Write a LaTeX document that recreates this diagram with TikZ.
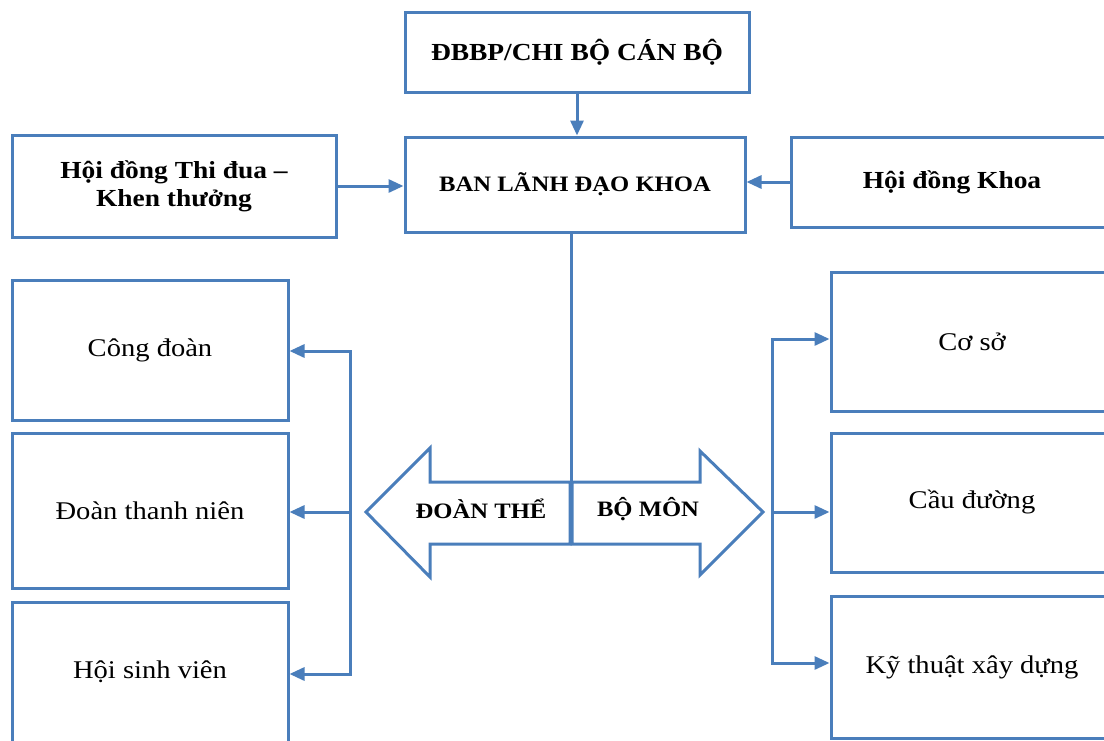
\documentclass[tikz,border=0pt]{standalone}
\usepackage{fontspec}
\setmainfont[FakeStretch=1.12]{Liberation Serif}
\usetikzlibrary{arrows.meta}
\definecolor{myblue}{HTML}{4A7EBB}
\tikzset{
  box/.style={draw=myblue, line width=3pt, fill=white, rectangle, inner sep=0pt, align=center},
  conn/.style={draw=myblue, line width=3pt, line join=miter},
  tip/.tip={Triangle[length=15pt,width=13pt]},
  arr/.style={conn, -tip},
  darr/.style={conn, tip-tip},
  bigtxt/.style={font=\fontsize{24.5}{28}\selectfont\bfseries},
  midtxt/.style={font=\fontsize{22}{26}\selectfont\bfseries},
  regtxt/.style={font=\fontsize{25.5}{30}\selectfont},
}
\begin{document}
\begin{tikzpicture}[x=1pt,y=-1pt]
\useasboundingbox (0,0) rectangle (1104,740);
\clip (0,0) rectangle (1104,740);
\fill[white] (0,0) rectangle (1104,740);
% top row
\node[box, minimum width=344, minimum height=80, bigtxt] (top) at (577,52) {ĐBBP/CHI BỘ CÁN BỘ};
\node[box, minimum width=340, minimum height=95, midtxt] (ban) at (575,184.5) {BAN LÃNH ĐẠO KHOA};
\node[box, minimum width=324, minimum height=102, bigtxt, text depth=4pt] (thidua) at (174,186) {Hội đồng Thi đua –\\Khen thưởng};
\node[box, minimum width=322, minimum height=90, bigtxt] (hdk) at (952,182) {Hội đồng Khoa};
% left boxes
\node[box, minimum width=276, minimum height=140, regtxt] (cd) at (150,350) {Công đoàn};
\node[box, minimum width=276, minimum height=155, regtxt] (dtn) at (150,510.5) {Đoàn thanh niên};
\node[box, minimum width=276, minimum height=140, regtxt] (hsv) at (150,672) {Hội sinh viên};
% right boxes
\node[box, minimum width=282, minimum height=139, regtxt] (cs) at (972,341.5) {Cơ sở};
\node[box, minimum width=282, minimum height=139, regtxt] (cdg) at (972,502.5) {Cầu đường};
\node[box, minimum width=282, minimum height=142, regtxt] (kt) at (972,667) {Kỹ thuật xây dựng};
% connectors top
\draw[arr] (top.south) -- (top.south |- ban.north);
\draw[arr] (thidua.east) -- (thidua.east -| ban.west);
\draw[arr] (hdk.west) -- (hdk.west -| ban.east);
% stem
\coordinate (stem) at (571,544);
\draw[conn] (stem |- ban.south) -- (stem);
% big double arrow
\draw[conn] (570,482) -- (430,482) -- (430,448) -- (366,512) -- (430,577) -- (430,544) -- (570,544) -- cycle;
\draw[conn] (572,482) -- (700,482) -- (700,451) -- (763,512) -- (700,575) -- (700,544) -- (572,544) -- cycle;
\node[midtxt] (dt) at (481,509) {ĐOÀN THỂ};
\node[midtxt] (bm) at (648,509) {BỘ MÔN};
% left bracket
\coordinate (l1) at (350,351);
\coordinate (l2) at (350,512);
\coordinate (l3) at (350,674);
\draw[darr] (l1 -| cd.east) -- (l1) -- (l3) -- (l3 -| hsv.east);
\draw[arr] (l2) -- (l2 -| dtn.east);
% right bracket
\coordinate (r1) at (772,339);
\coordinate (r2) at (772,512);
\coordinate (r3) at (772,663);
\draw[darr] (r1 -| cs.west) -- (r1) -- (r3) -- (r3 -| kt.west);
\draw[arr] (r2) -- (r2 -| cdg.west);
\end{tikzpicture}
\end{document}
